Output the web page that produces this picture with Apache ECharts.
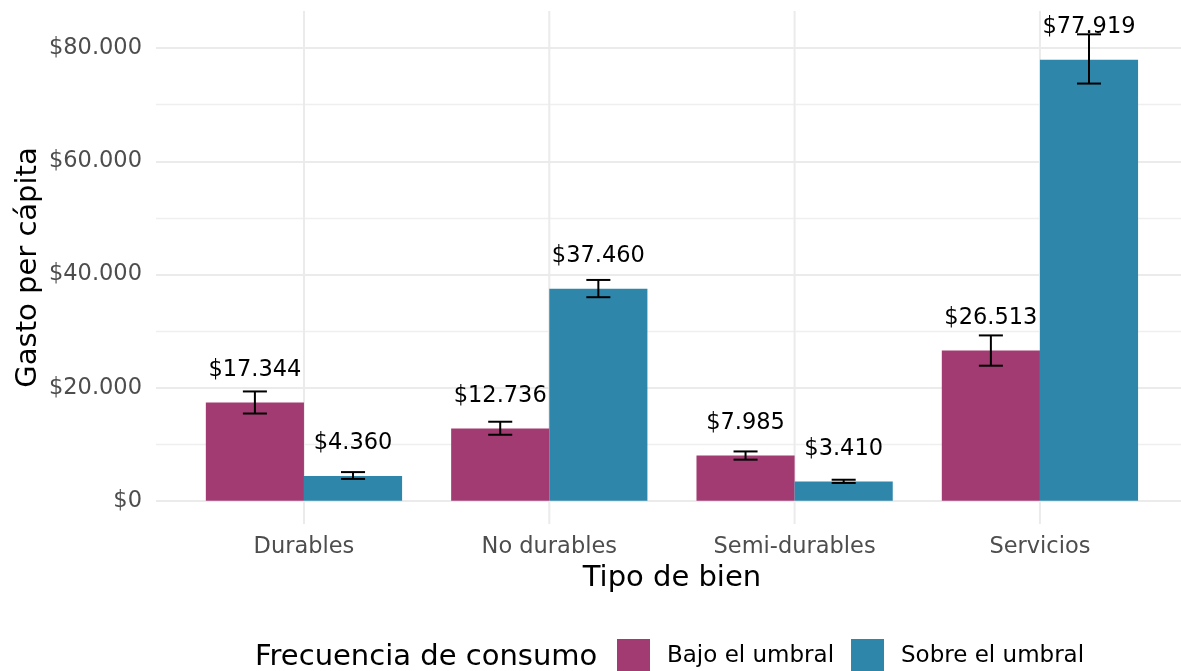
<!DOCTYPE html>
<html>
<head>
<meta charset="utf-8">
<script src="https://cdn.jsdelivr.net/npm/echarts@6/dist/echarts.min.js"></script>
<style>
  html, body { margin: 0; padding: 0; background: #fff; }
  #chart { width: 1181px; height: 671px; }
</style>
</head>
<body>
<div id="chart"></div>
<script>
// datos del grafico
var categorias = ['Durables', 'No durables', 'Semi-durables', 'Servicios'];
var grupos = ['Bajo el umbral', 'Sobre el umbral'];
var bajo = [17344, 12736, 7985, 26513];
var sobre = [4360, 37460, 3410, 77919];
// limites de las barras de error
var bajoMin = [15400, 11650, 7250, 23850];
var bajoMax = [19300, 13950, 8700, 29200];
var sobreMin = [3850, 35950, 3130, 73700];
var sobreMax = [5050, 39000, 3700, 82400];
var yTicks = [0, 20000, 40000, 60000, 80000];

var FONT = 'DejaVu Sans';
var colores = ['#A23B72', '#2E86AB'];

function pesos(v) {
    var s = Math.round(v).toString().replace(/\B(?=(\d{3})+(?!\d))/g, '.');
    return '$' + s;
}

// expansion del eje y como ggplot (5%)
var topeDatos = Math.max.apply(null, sobreMax.concat(bajoMax));
var yMin = -0.05 * topeDatos;
var yMax = topeDatos * 1.05;

function errorData(minArr, maxArr) {
    var out = [];
    for (var i = 0; i < categorias.length; i++) {
        out.push([i, minArr[i], maxArr[i]]);
    }
    return out;
}

function errorSerie(minArr, maxArr, desplaz) {
    return {
        type: 'custom',
        xAxisIndex: 1,
        yAxisIndex: 1,
        z: 5,
        silent: true,
        data: errorData(minArr, maxArr),
        renderItem: function (params, api) {
            var i = api.value(0);
            var lo = api.coord([i, api.value(1)]);
            var hi = api.coord([i, api.value(2)]);
            var banda = api.size([1, 0])[0];
            var x = lo[0] + desplaz * banda;
            var cap = banda * 0.049;
            var st = { stroke: '#000', lineWidth: 2 };
            return {
                type: 'group',
                children: [
                    { type: 'line', shape: { x1: x, y1: lo[1], x2: x, y2: hi[1] }, style: st },
                    { type: 'line', shape: { x1: x - cap, y1: hi[1], x2: x + cap, y2: hi[1] }, style: st },
                    { type: 'line', shape: { x1: x - cap, y1: lo[1], x2: x + cap, y2: lo[1] }, style: st }
                ]
            };
        }
    };
}

var etiqueta = {
    show: true,
    position: 'top',
    distance: 21,
    color: '#000',
    fontFamily: FONT,
    fontSize: 22.5,
    formatter: function (p) { return pesos(p.value); }
};

var chart = echarts.init(document.getElementById('chart'));

var option = {
    animation: false,
    backgroundColor: '#fff',
    textStyle: { fontFamily: FONT },
    grid: [
        // grilla de fondo: lineas horizontales y etiquetas del eje y
        { left: 156, right: -6, top: 48, bottom: 170 },
        // grilla principal: barras
        { left: 181.3, right: 18.4, top: 11, bottom: 147 }
    ],
    xAxis: [
        { gridIndex: 0, type: 'value', min: 0, max: 1, show: false },
        {
            gridIndex: 1,
            type: 'category',
            data: categorias,
            name: 'Tipo de bien',
            nameLocation: 'middle',
            nameGap: 40,
            nameTextStyle: { fontFamily: FONT, fontSize: 29, color: '#000' },
            axisLine: { show: false },
            axisTick: { show: false },
            splitLine: { show: false },
            axisLabel: { color: '#4D4D4D', fontFamily: FONT, fontSize: 22.5, margin: 12 }
        }
    ],
    yAxis: [
        {
            gridIndex: 0,
            type: 'value',
            min: yTicks[0],
            max: yTicks[yTicks.length - 1],
            interval: 20000,
            axisLine: { show: false },
            axisTick: { show: false },
            axisLabel: {
                color: '#4D4D4D', fontFamily: FONT, fontSize: 22.5, margin: 14,
                formatter: function (v) { return pesos(v); }
            },
            splitLine: { show: true, lineStyle: { color: '#EBEBEB', width: 2 } },
            minorTick: { show: false, splitNumber: 2 },
            minorSplitLine: { show: true, lineStyle: { color: '#EFEFEF', width: 1.3 } }
        },
        {
            gridIndex: 1,
            type: 'value',
            min: yMin,
            max: yMax,
            name: 'Gasto per cápita',
            nameLocation: 'middle',
            nameRotate: 90,
            nameGap: 138,
            nameTextStyle: { fontFamily: FONT, fontSize: 29, color: '#000' },
            axisLine: { show: false },
            axisTick: { show: false },
            axisLabel: { show: false },
            splitLine: { show: false }
        }
    ],
    legend: {
        data: grupos,
        left: 617,
        top: 639,
        icon: 'rect',
        itemWidth: 33,
        itemHeight: 34,
        itemGap: 17,
        padding: 0,
        textStyle: { fontFamily: FONT, fontSize: 23, color: '#000', padding: [0, 0, 0, 12] }
    },
    graphic: [
        {
            type: 'text',
            left: 255,
            top: 643,
            style: { text: 'Frecuencia de consumo', font: '29px "DejaVu Sans"', fill: '#000' }
        }
    ],
    series: [
        {
            // lineas verticales de la grilla en el centro de cada categoria
            type: 'custom',
            xAxisIndex: 1,
            yAxisIndex: 1,
            z: 0,
            silent: true,
            data: categorias.map(function (c, i) { return [i]; }),
            renderItem: function (params, api) {
                var p = api.coord([api.value(0), 0]);
                var cs = params.coordSys;
                return {
                    type: 'line',
                    shape: { x1: p[0], y1: cs.y, x2: p[0], y2: cs.y + cs.height },
                    style: { stroke: '#EBEBEB', lineWidth: 2 }
                };
            }
        },
        {
            name: grupos[0],
            type: 'bar',
            xAxisIndex: 1,
            yAxisIndex: 1,
            z: 2,
            data: bajo,
            barGap: '0%',
            barCategoryGap: '20%',
            itemStyle: { color: colores[0] },
            label: etiqueta
        },
        {
            name: grupos[1],
            type: 'bar',
            xAxisIndex: 1,
            yAxisIndex: 1,
            z: 2,
            data: sobre,
            barGap: '0%',
            barCategoryGap: '20%',
            itemStyle: { color: colores[1] },
            label: etiqueta
        },
        errorSerie(bajoMin, bajoMax, -0.2),
        errorSerie(sobreMin, sobreMax, 0.2)
    ]
};

chart.setOption(option);
</script>
</body>
</html>
